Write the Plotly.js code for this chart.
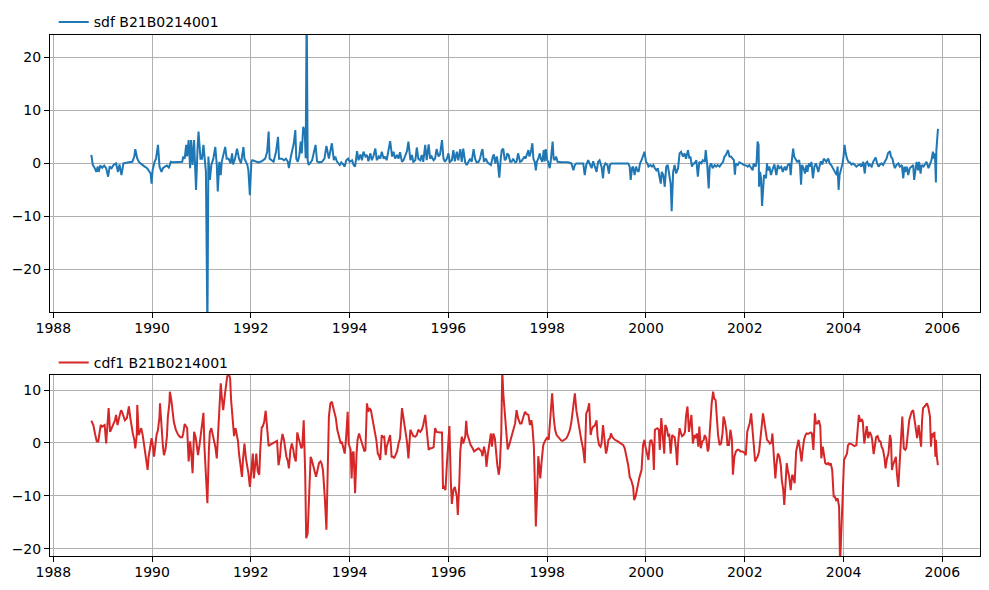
<!DOCTYPE html>
<html>
<head>
<meta charset="utf-8">
<script src="https://cdn.plot.ly/plotly-3.0.1.min.js"></script>
<style>html,body{margin:0;padding:0;background:#fff;}#chart{width:989px;height:590px;}</style>
</head>
<body>
<div id="chart"></div>
<script>
// ---- data (decimal years) ----
const sdfName = "sdf B21B0214001";
const cdfName = "cdf1 B21B0214001";

const sdfX = [1988.77,1988.80,1988.84,1988.87,1988.90,1988.92,1988.95,1988.99,1989.03,1989.07,1989.11,1989.14,1989.18,1989.22,1989.27,1989.31,1989.34,1989.38,1989.42,1989.46,1989.53,1989.60,1989.64,1989.66,1989.70,1989.74,1989.80,1989.85,1989.90,1989.93,1989.97,1989.99,1990.01,1990.05,1990.08,1990.12,1990.15,1990.19,1990.22,1990.26,1990.30,1990.34,1990.38,1990.42,1990.47,1990.54,1990.61,1990.63,1990.66,1990.69,1990.71,1990.74,1990.77,1990.79,1990.82,1990.85,1990.89,1990.92,1990.94,1990.98,1991.01,1991.04,1991.06,1991.09,1991.12,1991.14,1991.17,1991.20,1991.24,1991.28,1991.31,1991.33,1991.36,1991.39,1991.41,1991.44,1991.48,1991.51,1991.55,1991.59,1991.62,1991.64,1991.68,1991.72,1991.76,1991.80,1991.85,1991.87,1991.90,1991.93,1991.95,1991.98,1992.01,1992.03,1992.09,1992.15,1992.22,1992.29,1992.33,1992.36,1992.38,1992.42,1992.46,1992.51,1992.55,1992.57,1992.63,1992.67,1992.71,1992.75,1992.77,1992.81,1992.84,1992.87,1992.90,1992.92,1992.95,1992.98,1993.01,1993.03,1993.06,1993.09,1993.11,1993.13,1993.15,1993.17,1993.24,1993.27,1993.31,1993.34,1993.37,1993.44,1993.49,1993.53,1993.58,1993.64,1993.68,1993.71,1993.74,1993.80,1993.83,1993.87,1993.90,1993.93,1993.97,1994.00,1994.05,1994.08,1994.11,1994.15,1994.18,1994.22,1994.25,1994.28,1994.32,1994.35,1994.38,1994.42,1994.45,1994.48,1994.52,1994.55,1994.59,1994.62,1994.65,1994.69,1994.72,1994.75,1994.79,1994.82,1994.86,1994.89,1994.92,1994.96,1994.99,1995.02,1995.06,1995.09,1995.16,1995.19,1995.23,1995.26,1995.29,1995.33,1995.36,1995.39,1995.43,1995.46,1995.49,1995.53,1995.56,1995.60,1995.63,1995.66,1995.70,1995.73,1995.76,1995.80,1995.83,1995.87,1995.90,1995.93,1995.97,1996.00,1996.03,1996.07,1996.10,1996.13,1996.17,1996.20,1996.24,1996.27,1996.30,1996.34,1996.37,1996.40,1996.44,1996.47,1996.51,1996.54,1996.57,1996.61,1996.64,1996.67,1996.69,1996.72,1996.76,1996.79,1996.83,1996.86,1996.90,1996.92,1996.95,1996.98,1997.00,1997.03,1997.06,1997.08,1997.11,1997.14,1997.17,1997.19,1997.22,1997.25,1997.28,1997.31,1997.35,1997.38,1997.41,1997.45,1997.48,1997.54,1997.56,1997.59,1997.62,1997.64,1997.67,1997.70,1997.72,1997.75,1997.77,1997.79,1997.82,1997.85,1997.87,1997.90,1997.93,1997.95,1997.97,1998.00,1998.02,1998.05,1998.07,1998.11,1998.13,1998.15,1998.18,1998.21,1998.29,1998.42,1998.49,1998.53,1998.56,1998.59,1998.73,1998.76,1998.79,1998.83,1998.86,1998.90,1998.93,1998.96,1999.00,1999.03,1999.06,1999.10,1999.13,1999.15,1999.18,1999.22,1999.25,1999.27,1999.30,1999.64,1999.67,1999.69,1999.72,1999.74,1999.77,1999.80,1999.82,1999.85,1999.88,1999.91,1999.94,1999.97,2000.00,2000.03,2000.05,2000.09,2000.12,2000.15,2000.18,2000.21,2000.24,2000.28,2000.30,2000.32,2000.35,2000.38,2000.41,2000.44,2000.48,2000.50,2000.52,2000.55,2000.58,2000.61,2000.65,2000.68,2000.71,2000.75,2000.78,2000.81,2000.85,2000.88,2000.90,2000.93,2000.96,2000.98,2001.02,2001.05,2001.08,2001.12,2001.15,2001.19,2001.21,2001.24,2001.27,2001.29,2001.32,2001.35,2001.39,2001.42,2001.45,2001.49,2001.52,2001.56,2001.59,2001.62,2001.66,2001.69,2001.72,2001.76,2001.78,2001.80,2001.82,2001.86,2001.89,2001.93,2001.96,2001.99,2002.03,2002.06,2002.09,2002.13,2002.16,2002.18,2002.22,2002.24,2002.26,2002.28,2002.29,2002.31,2002.33,2002.35,2002.37,2002.39,2002.41,2002.43,2002.45,2002.47,2002.50,2002.53,2002.57,2002.60,2002.64,2002.67,2002.70,2002.74,2002.77,2002.81,2002.84,2002.87,2002.91,2002.93,2002.95,2002.98,2003.00,2003.03,2003.06,2003.10,2003.12,2003.14,2003.16,2003.19,2003.22,2003.25,2003.27,2003.30,2003.33,2003.35,2003.38,2003.41,2003.44,2003.46,2003.49,2003.52,2003.54,2003.57,2003.60,2003.63,2003.65,2003.69,2003.72,2003.75,2003.79,2003.82,2003.86,2003.88,2003.90,2003.92,2003.95,2003.98,2004.00,2004.02,2004.04,2004.07,2004.10,2004.13,2004.16,2004.19,2004.23,2004.26,2004.30,2004.33,2004.36,2004.40,2004.43,2004.45,2004.48,2004.51,2004.53,2004.57,2004.60,2004.63,2004.65,2004.68,2004.71,2004.74,2004.77,2004.80,2004.84,2004.87,2004.90,2004.94,2004.96,2004.99,2005.01,2005.04,2005.07,2005.11,2005.14,2005.18,2005.21,2005.23,2005.25,2005.28,2005.31,2005.34,2005.38,2005.41,2005.43,2005.46,2005.48,2005.51,2005.53,2005.56,2005.58,2005.62,2005.65,2005.68,2005.72,2005.75,2005.78,2005.81,2005.83,2005.85,2005.87,2005.88,2005.89,2005.91,2005.92];
const sdfY = [1.6,-0.3,-0.9,-1.6,-0.6,-1.6,-0.4,-0.8,-0.4,-0.9,-2.5,-0.6,-0.9,-0.3,0,-1.6,-0.2,-2.2,0,0.1,0.2,0.3,1.3,2.7,0.9,0.2,-0.3,-0.6,-0.9,-1.3,-1.9,-3.8,-1.3,0.3,0.9,3.5,-0.6,-1.6,-0.9,-0.6,-0.4,-0.8,0.3,0.2,0.2,0.3,0.3,1.3,0.9,3.5,1.3,4.4,-0.9,4.4,-0.3,4.4,-5.0,2.8,6.0,0.9,0.9,3.5,1.9,-1.6,-32,1.3,-3.1,-0.3,0.9,3.1,-0.3,-5.3,0.3,-2.2,0.3,1.3,3.1,0.9,0.9,0,1.9,-0.2,0.9,2.8,0.9,0,3.1,0.9,0.3,-0.3,-1.3,-6.0,0.3,0.6,0.4,0.2,0.4,0.9,2.2,6.0,0.9,0.6,0.3,2.2,5.0,0.9,0.9,0.6,0.9,0.3,-0.9,1.3,2.8,3.8,6.3,0.9,0.3,1.5,4.1,1.9,6.9,6.0,1.0,30,0.6,-0.3,0.6,1.9,3.5,0.4,0.2,0.3,0.9,3.3,0.9,3.8,0.6,1.3,0.4,-0.3,0.2,-0.2,-0.6,0.6,0.9,0.3,0.6,-0.3,-0.6,2.3,0.6,1.7,0.6,2.2,1.3,1.6,0.4,1.9,0.6,1.3,2.8,0.6,1.3,0.9,2.2,0.9,1.3,0.6,2.5,4.2,1.3,2.2,0.9,1.6,0.9,2.1,0.3,0.6,2.3,4.1,0.6,1.6,0.3,0.6,3.0,0.9,0.6,1.6,0.3,3.5,0.6,3.6,0.9,1.3,0.6,0.9,2.7,1.3,1.7,4.4,0.9,0.3,0.9,1.9,0.3,0.6,2.5,0.4,2.2,0.6,2.7,0.3,2.8,0.2,-0.3,0.3,0.9,0.3,2.7,0.9,0.2,0.3,0.9,2.2,2.7,0.3,0.9,0.2,0,-0.3,1.3,1.7,0,1.3,0.2,-2.7,0.9,2.5,2.8,0.6,0.9,1.9,1.6,0.3,0.3,0.9,0.2,0.3,1.9,0.3,0.4,1.3,0.9,1.6,2.5,1.3,2.2,3.8,0.9,0.2,-1.3,0.3,0.9,1.9,0.9,0.3,2.5,0.4,2.7,0.6,0.3,-0.9,0.3,4.1,0.9,0.6,1.3,0.3,0.2,0.2,0,-1.3,-0.3,0,0,-2.2,-0.3,0.6,0,-0.9,0.4,-0.6,-1.6,0.3,0.6,-0.6,-2.8,-0.6,0,-0.3,-1.9,-0.3,0,0,-0.6,-3.1,-0.8,-0.6,-2.2,-0.6,-1.3,-1.6,0,0.6,1.3,2.2,0.3,0,-0.6,-0.3,-0.6,-0.3,-0.9,-1.3,-0.9,-2.8,-3.8,-1.6,-2.2,-4.4,-0.6,-0.3,-2.8,-3.8,-9.0,-1.6,-0.3,-1.9,-0.9,1.9,2.2,1.3,1.9,0.9,2.5,0.9,1.3,-0.6,0,0,0.6,-2.5,0.3,0,0.6,0.3,2.5,-0.3,-4.7,-0.6,0,-0.9,-0.3,-0.6,-0.3,-0.6,-0.2,0.3,1.3,1.6,2.5,1.3,1.3,0.9,0.6,-2.1,0,-0.3,0.2,0,-0.2,-0.3,-0.4,-0.6,-0.3,-0.9,-1.3,0,-0.6,0.3,4.1,3.5,-4.4,-1.6,-2.8,-8.0,-3.5,-2.2,-2.5,-2.8,0,-1.3,-0.6,-2.2,-0.9,-0.2,-2.2,-0.3,-0.9,-0.6,-1.6,-0.6,-1.3,-0.3,0,-2.2,0.3,2.8,1.3,0.9,0.3,0.6,-0.6,-4.0,-0.3,-0.9,-1.9,-0.3,-1.6,0,-0.6,0.3,-2.8,-0.6,0,-0.6,-1.6,-0.3,0.4,-0.2,0.9,0.6,0.3,0.9,0,-0.3,-0.9,-1.6,-2.2,-0.6,-5.0,-2.2,-1.3,0,1.3,3.5,2.2,0.9,0.3,0.2,-0.2,0,-0.3,-0.6,-0.3,-0.2,-0.6,0.3,-1.9,0,0.3,-0.4,-0.2,-0.6,0.3,0.9,1.1,0,-0.6,-0.2,0,-0.3,0.3,0.9,1.9,2.3,1.3,0.9,0,-0.9,-0.3,0,-0.6,-0.3,-2.8,-0.6,-1.6,-0.6,-2.2,-0.9,-0.6,-0.3,-3.1,-0.6,0.3,-1.3,0.3,-1.9,-0.3,-0.6,0,0.3,-0.9,0,0.6,2.2,0.9,1.9,-3.6,2.5,4.7,6.3,6.5];

const cdfX = [1988.77,1988.81,1988.85,1988.88,1988.91,1988.94,1988.96,1988.99,1989.01,1989.04,1989.07,1989.10,1989.12,1989.15,1989.18,1989.22,1989.25,1989.27,1989.30,1989.33,1989.37,1989.39,1989.42,1989.45,1989.49,1989.53,1989.56,1989.58,1989.61,1989.64,1989.66,1989.69,1989.70,1989.73,1989.76,1989.78,1989.81,1989.84,1989.87,1989.91,1989.93,1989.96,1989.99,1990.01,1990.04,1990.07,1990.09,1990.12,1990.15,1990.16,1990.19,1990.22,1990.24,1990.27,1990.30,1990.32,1990.35,1990.36,1990.39,1990.42,1990.44,1990.48,1990.53,1990.57,1990.61,1990.63,1990.66,1990.69,1990.71,1990.74,1990.77,1990.79,1990.82,1990.85,1990.88,1990.90,1990.93,1990.96,1990.98,1991.01,1991.04,1991.06,1991.09,1991.12,1991.15,1991.17,1991.20,1991.23,1991.25,1991.28,1991.31,1991.33,1991.36,1991.39,1991.41,1991.44,1991.47,1991.49,1991.52,1991.55,1991.58,1991.60,1991.63,1991.66,1991.69,1991.71,1991.74,1991.76,1991.79,1991.82,1991.84,1991.87,1991.90,1991.93,1991.95,1991.98,1992.01,1992.04,1992.06,1992.09,1992.11,1992.14,1992.17,1992.19,1992.22,1992.24,1992.27,1992.30,1992.33,1992.36,1992.38,1992.42,1992.46,1992.51,1992.53,1992.56,1992.59,1992.61,1992.64,1992.67,1992.69,1992.72,1992.75,1992.77,1992.80,1992.83,1992.86,1992.88,1992.91,1992.94,1992.96,1992.99,1993.02,1993.04,1993.07,1993.10,1993.12,1993.15,1993.18,1993.21,1993.23,1993.26,1993.29,1993.32,1993.35,1993.38,1993.41,1993.43,1993.46,1993.48,1993.50,1993.53,1993.56,1993.58,1993.61,1993.64,1993.67,1993.69,1993.72,1993.75,1993.79,1993.82,1993.84,1993.87,1993.90,1993.93,1993.96,1993.98,1994.02,1994.04,1994.06,1994.08,1994.11,1994.14,1994.16,1994.19,1994.22,1994.24,1994.27,1994.30,1994.32,1994.35,1994.38,1994.40,1994.43,1994.45,1994.48,1994.51,1994.54,1994.57,1994.59,1994.62,1994.65,1994.67,1994.70,1994.73,1994.75,1994.79,1994.82,1994.85,1994.88,1994.90,1994.93,1994.96,1994.99,1995.02,1995.06,1995.09,1995.12,1995.16,1995.19,1995.23,1995.26,1995.29,1995.33,1995.36,1995.39,1995.43,1995.46,1995.49,1995.53,1995.56,1995.60,1995.63,1995.66,1995.70,1995.73,1995.76,1995.80,1995.83,1995.87,1995.89,1995.91,1995.94,1995.97,1996.00,1996.02,1996.05,1996.07,1996.10,1996.13,1996.17,1996.19,1996.22,1996.24,1996.27,1996.30,1996.34,1996.36,1996.38,1996.41,1996.45,1996.49,1996.52,1996.56,1996.61,1996.64,1996.67,1996.69,1996.72,1996.75,1996.77,1996.80,1996.83,1996.86,1996.88,1996.91,1996.94,1996.96,1996.99,1997.02,1997.04,1997.07,1997.09,1997.11,1997.14,1997.17,1997.20,1997.23,1997.26,1997.29,1997.31,1997.35,1997.38,1997.41,1997.45,1997.48,1997.52,1997.55,1997.58,1997.62,1997.65,1997.68,1997.70,1997.73,1997.75,1997.77,1997.80,1997.82,1997.84,1997.86,1997.89,1997.92,1997.95,1997.97,1998.00,1998.03,1998.05,1998.08,1998.10,1998.13,1998.16,1998.19,1998.22,1998.26,1998.29,1998.32,1998.36,1998.39,1998.42,1998.46,1998.49,1998.53,1998.56,1998.59,1998.63,1998.66,1998.69,1998.73,1998.76,1998.79,1998.82,1998.85,1998.88,1998.90,1998.93,1998.96,1999.00,1999.02,1999.05,1999.08,1999.10,1999.13,1999.16,1999.19,1999.21,1999.24,1999.27,1999.29,1999.32,1999.37,1999.43,1999.50,1999.54,1999.57,1999.60,1999.64,1999.67,1999.70,1999.74,1999.76,1999.79,1999.82,1999.85,1999.87,1999.91,1999.94,1999.97,1999.99,2000.02,2000.05,2000.08,2000.11,2000.14,2000.16,2000.18,2000.20,2000.23,2000.26,2000.28,2000.31,2000.34,2000.37,2000.39,2000.42,2000.45,2000.47,2000.50,2000.53,2000.56,2000.58,2000.61,2000.63,2000.65,2000.68,2000.71,2000.73,2000.76,2000.79,2000.81,2000.84,2000.87,2000.89,2000.92,2000.95,2000.98,2001.00,2001.03,2001.06,2001.08,2001.11,2001.14,2001.17,2001.19,2001.22,2001.25,2001.27,2001.30,2001.33,2001.36,2001.38,2001.41,2001.44,2001.46,2001.49,2001.52,2001.55,2001.57,2001.60,2001.63,2001.65,2001.68,2001.71,2001.74,2001.76,2001.79,2001.82,2001.85,2001.88,2001.92,2001.95,2001.99,2002.02,2002.05,2002.07,2002.10,2002.13,2002.16,2002.18,2002.21,2002.24,2002.26,2002.29,2002.32,2002.35,2002.37,2002.40,2002.43,2002.45,2002.48,2002.51,2002.54,2002.56,2002.59,2002.62,2002.64,2002.67,2002.70,2002.73,2002.75,2002.78,2002.80,2002.82,2002.85,2002.87,2002.90,2002.93,2002.96,2002.98,2003.01,2003.04,2003.06,2003.09,2003.12,2003.15,2003.17,2003.20,2003.23,2003.25,2003.28,2003.31,2003.34,2003.36,2003.39,2003.42,2003.44,2003.47,2003.50,2003.53,2003.55,2003.58,2003.61,2003.63,2003.66,2003.69,2003.72,2003.74,2003.77,2003.80,2003.82,2003.85,2003.88,2003.91,2003.93,2003.96,2003.99,2004.01,2004.04,2004.07,2004.09,2004.12,2004.16,2004.19,2004.22,2004.26,2004.28,2004.31,2004.34,2004.37,2004.39,2004.42,2004.45,2004.47,2004.50,2004.53,2004.56,2004.58,2004.61,2004.64,2004.66,2004.69,2004.72,2004.75,2004.77,2004.80,2004.83,2004.85,2004.88,2004.91,2004.94,2004.96,2004.98,2005.00,2005.03,2005.06,2005.08,2005.11,2005.14,2005.17,2005.19,2005.22,2005.25,2005.27,2005.30,2005.33,2005.36,2005.38,2005.41,2005.44,2005.46,2005.49,2005.52,2005.55,2005.57,2005.59,2005.61,2005.64,2005.67,2005.69,2005.72,2005.75,2005.77,2005.79,2005.82,2005.84,2005.86,2005.87,2005.89,2005.91];
const cdfY = [4.2,3.4,1.5,0.3,0.3,2.5,3.4,3.1,3.2,3.4,-0.1,3.1,6.6,2.1,2.8,3.7,4.3,5.3,3.4,4.7,6.2,5.9,5.0,4.3,4.7,6.9,4.7,3.1,1.8,0.6,-1.0,1.5,7.2,1.5,2.5,2.8,1.5,-0.7,-2.6,-5.1,-2.6,-0.4,0.9,-0.1,-2.6,-0.1,1.5,2.5,5.0,7.5,2.5,-0.7,-2.3,-1.3,1.2,5.0,7.5,9.7,8.1,5.9,4.0,2.5,1.5,1.1,1.1,1.8,3.6,3.1,2.8,-3.5,0.3,-1.6,-5.7,2.1,1.2,-0.1,-2.3,-0.4,1.2,3.7,5.7,-0.7,-7.0,-11.4,-1.3,2.1,2.8,1.5,0.6,-0.7,-2.9,1.2,6.2,11.3,8.8,6.2,8.8,10.6,12.5,13.2,12.2,8.1,5.0,1.3,2.8,1.8,0.3,-2.0,-4.5,-6.4,-3.2,-0.1,-2.9,-4.2,-5.7,-8.3,-4.8,-2.0,-6.7,-3.8,-2.0,-5.4,-6.0,-1.3,3.0,3.1,4.0,6.1,2.1,-0.6,-0.4,-0.2,-0.1,0.3,0.4,-4.2,-2.6,-0.1,1.7,0.6,-1.0,-2.6,-3.5,-4.8,-1.3,-0.1,-1.3,-2.6,-3.5,2.0,1.2,0.3,-1.0,-0.7,4.3,-5.7,-18.0,-17.1,-10.8,-2.6,-3.1,-4.2,-5.7,-6.4,-5.1,-3.8,-3.5,-3.8,-5.1,-7.6,-10.8,-16.4,-6.4,5.0,7.5,7.8,6.6,5.9,4.7,2.5,0.6,-0.1,0.3,-0.7,-2.0,1.2,5.9,-0.1,-1.3,-6.7,-2.0,-1.6,-9.5,-2.0,0.6,1.8,0.9,0.3,-0.7,-1.6,-1.3,7.5,5.9,6.6,6.2,5.0,3.1,2.1,0.6,-2.0,-2.3,-3.2,1.5,1.1,1.2,-2.3,-0.7,0.6,1.5,-2.6,-2.6,-2.9,-2.3,-1.6,-0.1,0.9,6.6,4.3,2.8,0.3,-2.9,2.5,1.8,1.3,1.2,1.5,2.5,2.1,2.5,3.4,5.3,2.8,-1.3,-1.0,-1.0,-0.8,2.8,2.1,2.0,2.0,2.0,-8.4,-8.3,-8.9,-3.8,0.3,3.2,-7.6,-11.5,-8.9,-8.3,-10.1,-13.6,-7.6,-1.6,1.2,-0.1,1.2,4.2,1.8,0.6,-0.4,-1.0,-1.6,-1.3,-1.0,-1.3,-1.6,-2.5,-0.7,-2.0,-4.5,-2.0,-0.4,1.8,-0.7,1.8,0.9,-1.6,-4.2,-6.0,-4.5,1.8,13.8,9.4,6.2,1.8,-1.2,-0.4,0.6,1.5,2.5,3.7,6.2,4.7,3.7,3.7,5.0,5.9,5.5,5.3,3.4,4.3,3.1,-0.7,-7.6,-15.8,-8.3,-2.5,-4.5,-6.7,-3.2,-0.4,0.3,0.6,1.1,0.6,3.1,6.2,9.4,5.0,2.5,1.5,1.1,0.7,0.4,0.4,0.6,0.9,1.5,2.5,4.0,7.2,9.4,6.2,3.7,2.1,0.6,-1.3,-3.8,5.6,6.2,7.5,1.5,2.5,3.1,3.2,4.3,1.2,-0.4,-0.7,-0.1,3.4,1.2,-2.0,-1.3,0.6,0.9,1.8,1.1,0.6,0.3,-0.1,-0.4,-1.0,-2.3,-4.2,-6.4,-7.0,-8.3,-10.8,-10.1,-8.3,-7.3,-6.4,-5.1,-0.4,0.6,-0.7,-2.0,-3.2,0.3,0.6,-0.7,-5.1,2.5,2.6,2.8,2.5,-1.3,4.7,1.8,-2.0,3.4,2.8,1.2,1.8,-2.0,1.5,1.2,1.1,-1.3,-4.2,-0.1,2.8,1.8,1.3,1.5,2.1,5.0,6.9,2.1,3.4,5.3,-0.1,1.5,0.9,1.8,-0.7,3.1,-1.0,0.3,0.6,1.5,0.9,-1.6,-1.0,3.4,7.5,9.7,8.4,8.1,4.0,1.5,-0.4,-0.1,1.8,5.0,4.0,2.1,-0.4,-0.4,2.5,0.6,-6.0,-2.6,-1.6,-1.3,-1.3,-1.6,-1.6,-1.8,-2.3,2.1,2.8,3.7,5.6,2.5,-0.1,-3.5,-2.9,-2.6,-1.6,1.2,4.0,5.6,3.7,1.8,0.6,0.3,-0.1,0.1,1.8,-2.6,-6.7,-4.2,-2.0,-2.5,-4.2,-7.0,-8.9,-11.7,-8.3,-3.8,-5.1,-6.4,-8.9,-6.0,-6.4,-7.6,-1.6,-0.7,0.6,-1.3,-3.5,-1.6,0.6,1.5,1.8,1.7,1.8,2.0,1.8,-1.3,5.6,3.7,3.7,4.3,3.1,-2.9,-0.7,-3.2,-3.8,-4.0,-3.8,-4.2,-3.8,-5.1,-10.1,-10.1,-10.8,-10.5,-12.0,-23,-15.2,-7.6,-3.2,-2.6,-2.0,-0.4,-0.1,-0.2,-0.4,-0.6,-0.4,1.5,5.3,4.0,4.5,4.0,-0.1,1.8,3.2,0.9,2.1,1.5,0.6,-2.1,-0.1,1.1,1.3,0.4,0.3,-0.7,-1.3,-2.9,-4.8,-2.9,-2.0,1.5,0.6,-5.1,-4.2,-3.2,-2.6,-5.7,-8.3,-3.2,3.1,5.0,-1.0,-1.3,-1.0,2.5,4.3,5.3,5.9,6.2,4.0,2.5,0.9,3.4,1.5,-0.7,4.3,6.6,6.9,7.2,7.5,6.6,5.0,-0.7,1.8,1.1,2.1,-2.6,0.6,-2.6,-4.2];

const yearTicks = [1988,1990,1992,1994,1996,1998,2000,2002,2004,2006];
const sdfTicks = [-20,-10,0,10,20];
const cdfTicks = [-20,-10,0,10];

// ---- chart ----
const FONT = "DejaVu Sans, sans-serif";
const FS = 14;
function xax(anchor){
  return {anchor: anchor, domain:[0,1], range:[1987.933,2006.763],
    tickmode:'array', tickvals: yearTicks, ticktext: yearTicks.map(String),
    showgrid:true, gridcolor:'#b0b0b0', gridwidth:1, zeroline:false,
    showline:true, mirror:true, linecolor:'#000', linewidth:1,
    ticks:'outside', ticklen:5, tickcolor:'#000', tickwidth:1,
    ticklabelstandoff:-2,
    tickfont:{family:FONT,size:FS,color:'#000'}};
}
function yax(anchor, dom, rng, tv){
  return {anchor: anchor, domain: dom, range: rng,
    tickmode:'array', tickvals: tv, ticktext: tv.map(v => v < 0 ? '\u2212' + Math.abs(v) : String(v)),
    showgrid:true, gridcolor:'#b0b0b0', gridwidth:1, zeroline:false,
    showline:true, mirror:true, linecolor:'#000', linewidth:1,
    ticks:'outside', ticklen:5, tickcolor:'#000', tickwidth:1,
    tickfont:{family:FONT,size:FS,color:'#000'}};
}

const traces = [
  {x: sdfX, y: sdfY, type:'scatter', mode:'lines', name: sdfName,
   line:{color:'#1f77b4', width:2}, xaxis:'x', yaxis:'y', legend:'legend'},
  {x: cdfX, y: cdfY, type:'scatter', mode:'lines', name: cdfName,
   line:{color:'#d62728', width:2}, xaxis:'x2', yaxis:'y2', legend:'legend2'}
];

const legendBase = {xref:'paper', yref:'paper', x:0.004, xanchor:'left', yanchor:'bottom',
  bgcolor:'rgba(0,0,0,0)', borderwidth:0, font:{family:FONT,size:FS,color:'#000'},
  itemwidth:30};

const layout = {
  width: 989, height: 590,
  margin:{l:50, r:9, t:35, b:34, autoexpand:false},
  paper_bgcolor:'#fff', plot_bgcolor:'#fff',
  showlegend:true,
  font:{family:FONT, size:FS, color:'#000'},
  xaxis: xax('y'),
  yaxis: yax('x', [0.4683,1], [-28.0,24.2], sdfTicks),
  xaxis2: xax('y2'),
  yaxis2: yax('x2', [0,0.3474], [-21.36,12.85], cdfTicks),
  legend: Object.assign({}, legendBase, {y:0.9935}),
  legend2: Object.assign({}, legendBase, {y:0.3400})
};

Plotly.newPlot('chart', traces, layout, {displayModeBar:false, staticPlot:true});
</script>
</body>
</html>
